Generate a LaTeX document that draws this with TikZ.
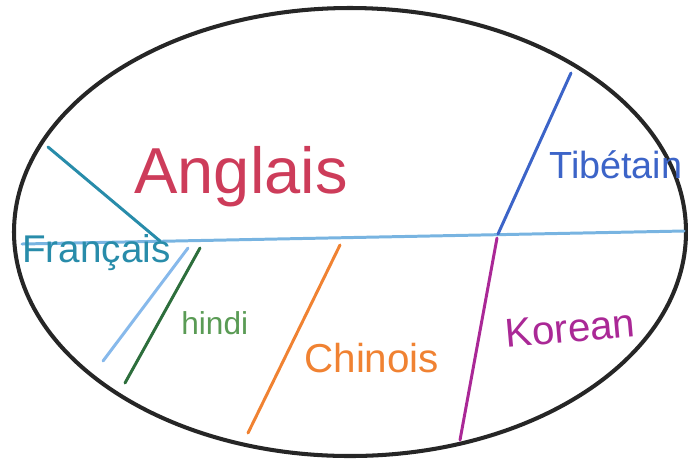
\documentclass[tikz,border=0pt]{standalone}
\usepackage{fontspec}
\setmainfont{Liberation Sans}
\tikzset{
  rim/.style={draw=black!85,line width=2.3pt},
  cut/.style={line width=1.7pt,line cap=round},
  lng/.style={inner sep=0pt,anchor=base west},
}
\definecolor{skyb}{RGB}{120,180,225}
\definecolor{tealb}{RGB}{40,140,170}
\definecolor{lblue}{RGB}{135,185,235}
\definecolor{dgrn}{RGB}{45,110,60}
\definecolor{hgrn}{RGB}{90,155,85}
\definecolor{orng}{RGB}{240,130,50}
\definecolor{tblue}{RGB}{60,100,200}
\definecolor{mgnt}{RGB}{170,40,150}
\definecolor{rouge}{RGB}{205,60,90}

\begin{document}
\begin{tikzpicture}[x=0.02cm,y=-0.02cm]
  \useasboundingbox (0,0) rectangle (688,461);
  % the oval
  \draw[rim] (350,232) ellipse [x radius=336,y radius=224];
  % junction points
  \coordinate (L) at (22,244);
  \coordinate (R) at (684,231);
  \coordinate (fa) at (48,147);  \coordinate (fb) at (160,241);
  \coordinate (fc) at (188,248); \coordinate (fd) at (103,361);
  \coordinate (ha) at (200,248); \coordinate (hb) at (125,383);
  \coordinate (ca) at (340,245); \coordinate (cb) at (248,433);
  \coordinate (ta) at (571,73);  \coordinate (tb) at (498,234);
  \coordinate (ka) at (497,238); \coordinate (kb) at (460,440);
  % dividing lines
  \draw[cut,skyb] (L) -- (R);
  \draw[cut,tealb] (fa) -- (fb);
  \draw[cut,lblue] (fc) -- (fd);
  \draw[cut,dgrn] (ha) -- (hb);
  \draw[cut,orng] (ca) -- (cb);
  \draw[cut,tblue] (ta) -- (tb);
  \draw[cut,mgnt] (ka) -- (kb);
  % labels
  \node[lng,rouge,font=\fontsize{37}{40}\selectfont] (angl) at (134,193) {Anglais};
  \node[lng,tblue,font=\fontsize{21.5}{23}\selectfont] (tibe) at (549,178) {Tibétain};
  \node[lng,tealb,font=\fontsize{22}{24}\selectfont] (fran) at (22,262) {Français};
  \node[lng,hgrn,font=\fontsize{18}{20}\selectfont] (hind) at (181,334) {hindi};
  \node[lng,orng,font=\fontsize{23}{25}\selectfont] (chin) at (304,372) {Chinois};
  \node[lng,mgnt,font=\fontsize{23}{25}\selectfont,rotate=5] (kore) at (506,348) {Korean};
\end{tikzpicture}
\end{document}
